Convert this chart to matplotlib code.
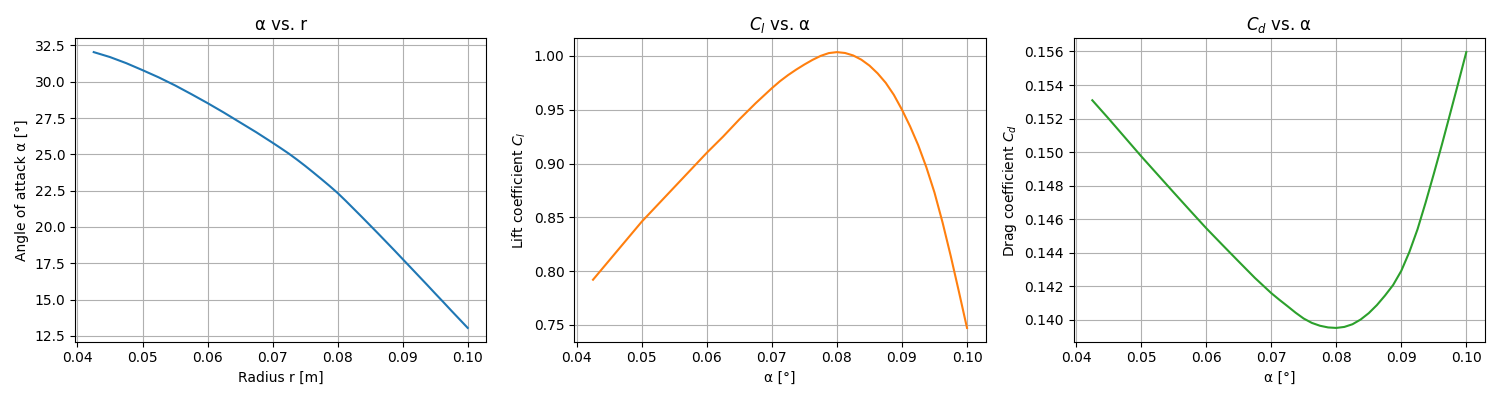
import matplotlib
matplotlib.use("Agg")
import matplotlib.pyplot as plt
from matplotlib.ticker import MultipleLocator

# radius stations [m] (finer spacing where the curves bend)
r = [0.0425, 0.045, 0.0475, 0.05, 0.0525, 0.055, 0.0575, 0.06, 0.0625, 0.065,
     0.0675, 0.07, 0.07125, 0.0725, 0.07375, 0.075, 0.07625, 0.0775, 0.07875,
     0.08, 0.08125, 0.0825, 0.08375, 0.085, 0.08625, 0.0875, 0.08875, 0.09,
     0.09125, 0.0925, 0.09375, 0.095, 0.09625, 0.0975, 0.09875, 0.1]

# angle of attack [deg]
alpha = [32.04, 31.70, 31.28, 30.80, 30.30, 29.75, 29.15, 28.53, 27.88, 27.20,
         26.52, 25.80, 25.43, 25.05, 24.64, 24.21, 23.76, 23.30, 22.83,
         22.34, 21.80, 21.24, 20.68, 20.11, 19.54, 18.96, 18.38, 17.79,
         17.20, 16.61, 16.02, 15.42, 14.83, 14.23, 13.64, 13.05]

# lift coefficient
cl = [0.792, 0.810, 0.828, 0.846, 0.862, 0.878, 0.894, 0.910, 0.925, 0.941,
      0.956, 0.970, 0.9765, 0.9822, 0.9873, 0.9920, 0.9963, 1.0000, 1.0026,
      1.0035, 1.0027, 1.0004, 0.9965, 0.9910, 0.9838, 0.9750, 0.9638, 0.9500,
      0.9345, 0.9170, 0.8965, 0.8730, 0.8450, 0.8140, 0.7810, 0.7472]

# drag coefficient
cd = [0.15309, 0.15200, 0.15088, 0.14976, 0.14868, 0.14760, 0.14653, 0.14547,
      0.14447, 0.14348, 0.14250, 0.14160, 0.14120, 0.14082, 0.14043, 0.14008,
      0.13982, 0.13965, 0.13955, 0.13952, 0.13958, 0.13974, 0.14002, 0.14040,
      0.14088, 0.14145, 0.14208, 0.14292, 0.14405, 0.14540, 0.14700, 0.14870,
      0.15045, 0.15227, 0.15410, 0.15596]

fig, axes = plt.subplots(1, 3, figsize=(15, 4))

ax = axes[0]
ax.plot(r, alpha, color="tab:blue")
ax.set_title("α vs. r")
ax.set_xlabel("Radius r [m]")
ax.set_ylabel("Angle of attack α [°]")
ax.grid(True)

ax = axes[1]
ax.plot(r, cl, color="tab:orange")
ax.set_title(r"$C_l$ vs. α")
ax.set_xlabel("α [°]")
ax.set_ylabel(r"Lift coefficient $C_l$")
ax.grid(True)

ax = axes[2]
ax.plot(r, cd, color="tab:green")
ax.set_title(r"$C_d$ vs. α")
ax.set_xlabel("α [°]")
ax.set_ylabel(r"Drag coefficient $C_d$")
ax.yaxis.set_major_locator(MultipleLocator(0.002))
ax.grid(True)

fig.tight_layout()
fig.savefig("out.png", dpi=100)
